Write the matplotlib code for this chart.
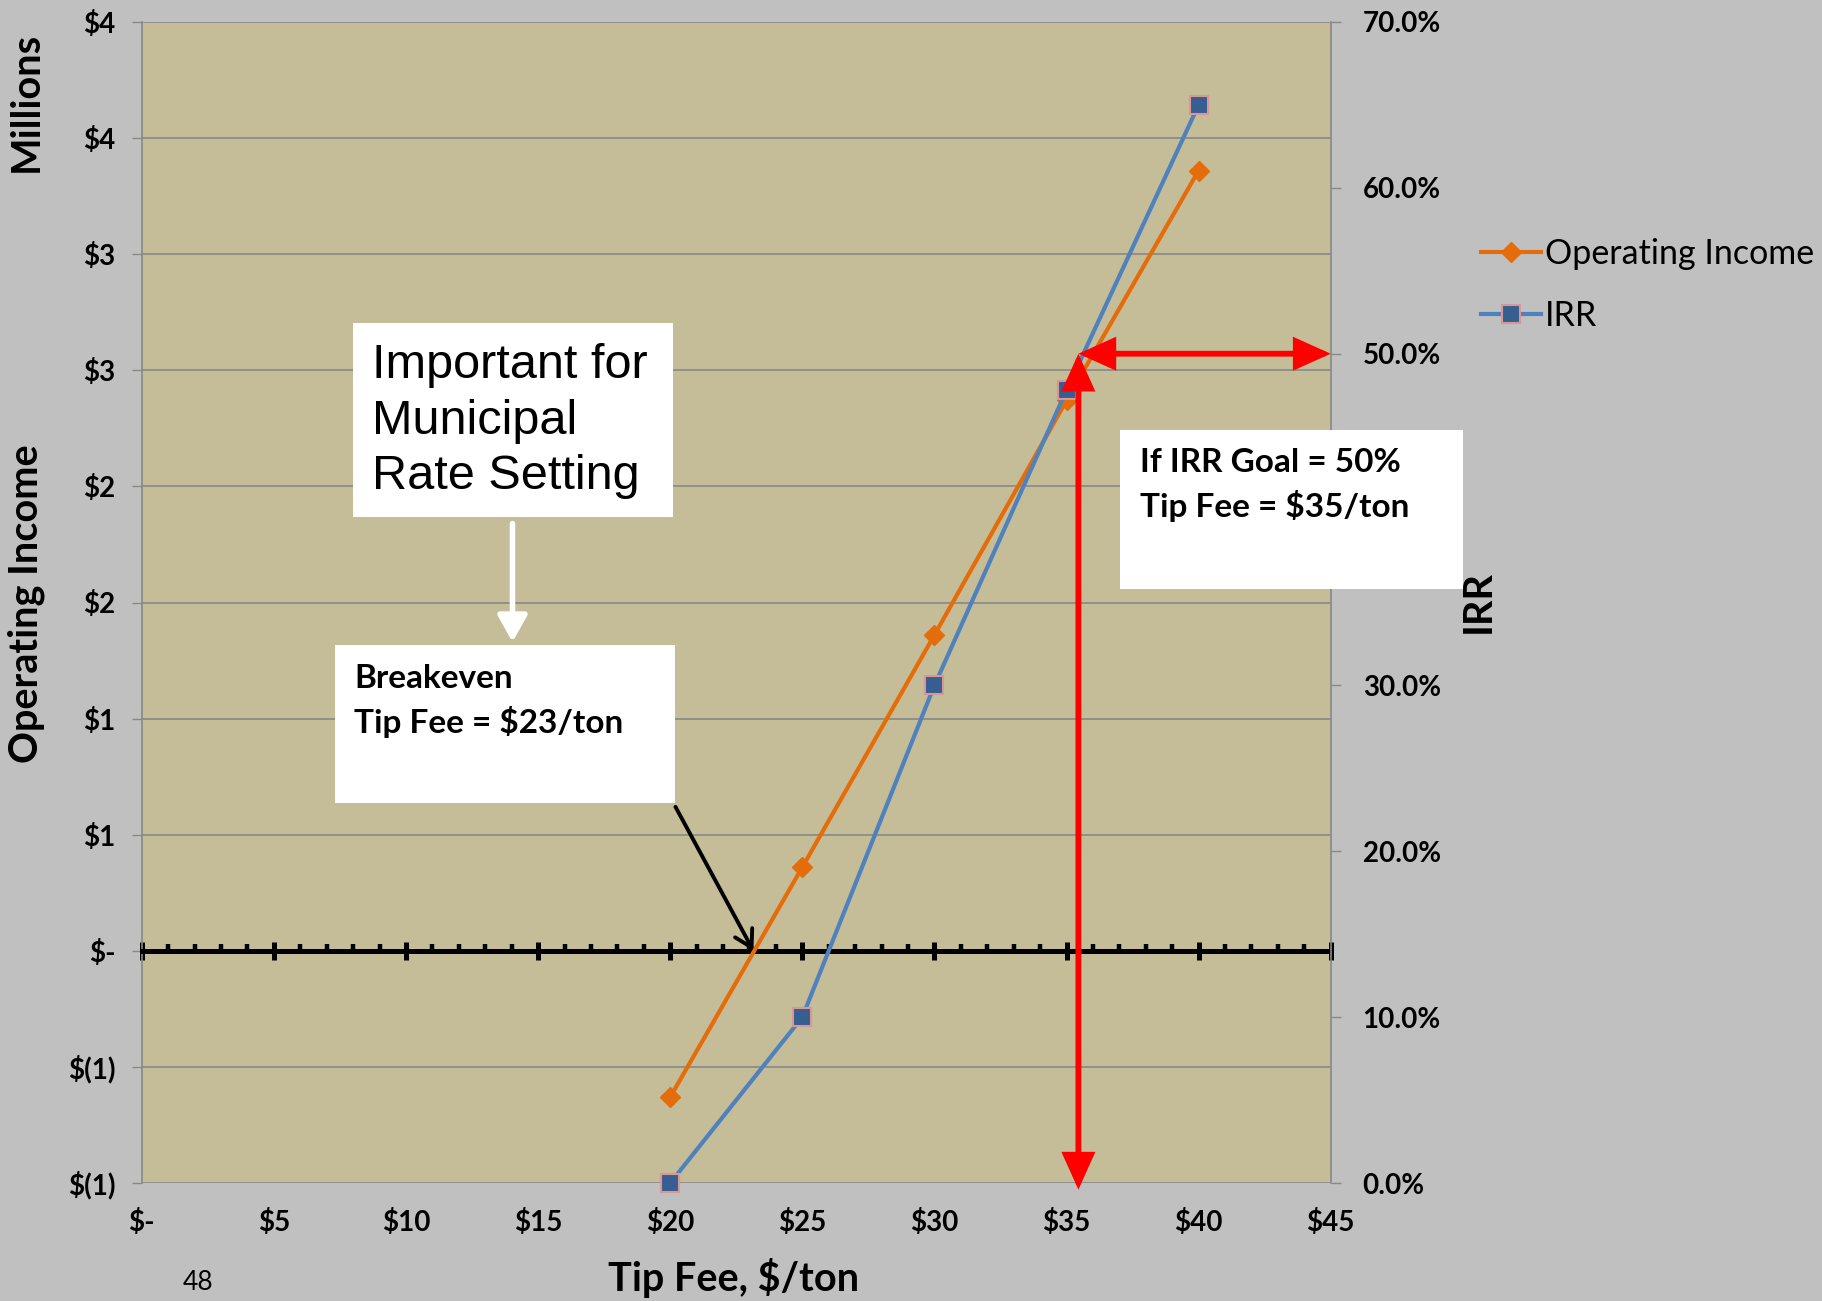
import matplotlib.pyplot as plt
import numpy as np
from matplotlib.patches import Rectangle

# data
tip_fee = [20, 25, 30, 35, 40]                 # $/ton
op_income = [-0.63, 0.36, 1.36, 2.37, 3.36]    # $ millions
irr = [0.0, 10.0, 30.0, 47.8, 65.0]            # percent

breakeven_fee = 23.15
goal_fee = 35.45
goal_irr = 50

plt.rcParams['font.family'] = ['Lato', 'DejaVu Sans']
plt.rcParams['font.weight'] = 'bold'

W, H = 1822, 1301
GRID = '#888888'
ORANGE = '#E46C0A'
BLUE = '#4F81BD'
TICK_SIZE = 20
TITLE_SIZE = 28.5


def fx(px):
    return px / W


def fy(py):
    return 1 - py / H


def money(v, pos):
    if abs(v) < 1e-9:
        return '$-'
    n = int(np.floor(abs(v) + 0.5))
    return f'$({n})' if v < 0 else f'${n}'


def fee_label(v, pos):
    return '$-' if abs(v) < 1e-9 else f'${int(round(v))}'


fig = plt.figure(figsize=(W / 100, H / 100), dpi=100, facecolor='#C0C0C0')
ax1 = fig.add_axes([fx(141.8), fy(1183), (1330.7 - 141.8) / W, (1183 - 22) / H])
ax1.set_facecolor('#C4BD97')

ax1.set_xlim(0, 45)
ax1.set_ylim(-1, 4)
ax1.set_yticks(np.arange(-1, 4.01, 0.5))
ax1.yaxis.set_major_formatter(money)
ax1.grid(axis='y', color=GRID, lw=1.2)
ax1.set_axisbelow(True)
ax1.tick_params(axis='y', direction='out', length=7, width=1, color=GRID,
                pad=12, labelsize=TICK_SIZE)

for s in ['top', 'right']:
    ax1.spines[s].set_visible(False)
ax1.spines['left'].set_color(GRID)
ax1.spines['left'].set_linewidth(1.2)

# horizontal axis drawn through zero, Excel style
ax1.spines['bottom'].set_position(('data', 0))
ax1.spines['bottom'].set_linewidth(3.6)
ax1.spines['bottom'].set_color('black')
ax1.set_xticks(range(0, 46, 5))
ax1.set_xticks(range(0, 46, 1), minor=True)
ax1.tick_params(axis='x', which='major', direction='inout', length=13, width=3.6,
                color='black', labelbottom=False)
ax1.tick_params(axis='x', which='minor', direction='in', length=5, width=3.2,
                color='black')

# tick labels at the bottom of the plot area
sec = ax1.secondary_xaxis('bottom')
sec.set_xticks(range(0, 46, 5))
sec.xaxis.set_major_formatter(fee_label)
sec.tick_params(length=0, pad=19, labelsize=TICK_SIZE)
sec.spines['bottom'].set_visible(False)

ax2 = ax1.twinx()
ax2.set_ylim(0, 70)
ax2.set_yticks(range(0, 71, 10))
ax2.yaxis.set_major_formatter(lambda v, pos: f'{v:.1f}%')
ax2.tick_params(axis='y', direction='out', length=7, width=1, color=GRID,
                pad=16, labelsize=TICK_SIZE)
for s in ['top', 'bottom', 'left']:
    ax2.spines[s].set_visible(False)
ax2.spines['right'].set_color(GRID)
ax2.spines['right'].set_linewidth(1.2)

ax1.plot(tip_fee, op_income, color=ORANGE, lw=3, marker='D', ms=10,
         mfc=ORANGE, mec=ORANGE, label='Operating Income', zorder=3)
ax2.plot(tip_fee, irr, color=BLUE, lw=3, marker='s', ms=13, mfc='#365E91',
         mec='#D99694', mew=1.5, label='IRR', clip_on=False, zorder=3)

# red goal arrows
red_style = dict(arrowstyle='<|-|>,head_length=1.0,head_width=0.45', color='red',
                 lw=4.2, shrinkA=0, shrinkB=0, mutation_scale=20,
                 joinstyle='miter')
ax2.annotate('', xy=(goal_fee, -0.4), xytext=(goal_fee, goal_irr),
             arrowprops=red_style, annotation_clip=False)
ax2.annotate('', xy=(45, goal_irr), xytext=(goal_fee, goal_irr),
             arrowprops=red_style, annotation_clip=False)

# white pointer and breakeven arrow
ax1.annotate('', xy=(14.03, 1.33), xytext=(14.03, 1.84),
             arrowprops=dict(arrowstyle='-|>,head_length=0.8,head_width=0.45',
                             color='white', lw=4, shrinkA=0, shrinkB=0,
                             mutation_scale=20))
ax1.annotate('', xy=(breakeven_fee, 0), xytext=(20.2, 0.62),
             arrowprops=dict(arrowstyle='->,head_length=0.6,head_width=0.35',
                             color='black', lw=2.8, shrinkA=0, shrinkB=0,
                             mutation_scale=20))


def box(x0, y0, x1, y1):
    fig.add_artist(Rectangle((fx(x0), fy(y1)), (x1 - x0) / W, (y1 - y0) / H,
                             transform=fig.transFigure, facecolor='white',
                             edgecolor='none', zorder=5))


box(353, 323, 673, 517)
fig.text(fx(372), fy(421), 'Important for\nMunicipal\nRate Setting',
         family='Liberation Sans', weight='normal', fontsize=35, va='center',
         linespacing=1.3, zorder=6)

box(335, 645, 675, 803)
fig.text(fx(354), fy(701), 'Breakeven\nTip Fee = $23/ton', fontsize=24,
         va='center', linespacing=1.45, zorder=6)

box(1120, 430, 1463, 589)
fig.text(fx(1140), fy(485), 'If IRR Goal = 50%\nTip Fee = $35/ton', fontsize=24,
         va='center', linespacing=1.45, zorder=6)

# axis titles
fig.text(fx(26), fy(102), 'Millions', rotation=90, ha='center', va='center',
         fontsize=TITLE_SIZE)
fig.text(fx(26), fy(604), 'Operating Income', rotation=90, ha='center',
         va='center', fontsize=TITLE_SIZE)
fig.text(fx(1478), fy(602), 'IRR', rotation=90, ha='center', va='center',
         fontsize=TITLE_SIZE)
fig.text(fx(734), fy(1278), 'Tip Fee, $/ton', ha='center', va='center',
         fontsize=TITLE_SIZE)
fig.text(fx(198), fy(1282), '48', ha='center', va='center', fontsize=19,
         weight='normal')

h1, l1 = ax1.get_legend_handles_labels()
h2, l2 = ax2.get_legend_handles_labels()
fig.legend(h1 + h2, l1 + l2, loc='center left', bbox_to_anchor=(fx(1481), fy(285)),
           frameon=False, borderpad=0, borderaxespad=0, handlelength=1.75,
           handletextpad=0.12, labelspacing=0.9,
           prop={'weight': 'normal', 'size': 24.5})

fig.savefig('out.png', dpi=100, facecolor=fig.get_facecolor())
